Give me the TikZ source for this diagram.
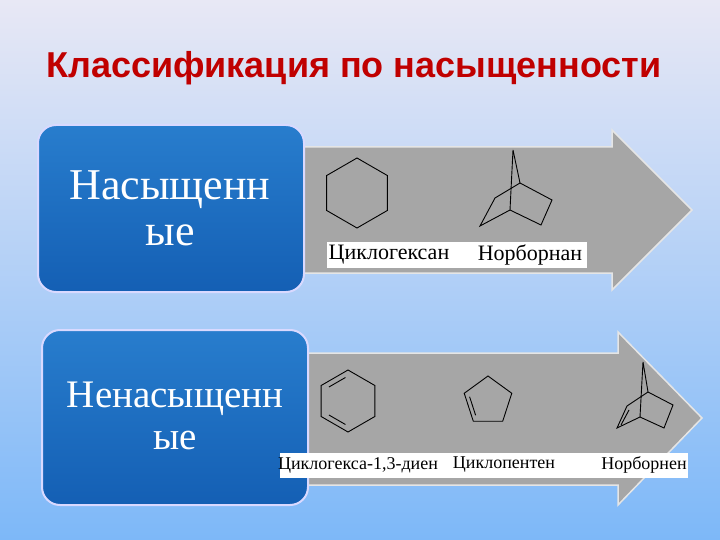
\documentclass[tikz,border=0pt]{standalone}
\usepackage{fontspec}
\setmainfont{Liberation Serif}
\newfontfamily\titlefont{Liberation Sans}
\begin{document}
\begin{tikzpicture}[x=1pt,y=-1pt,
  arr/.style={fill=gray!70!white, draw=white!80!gray, line width=1.5pt},
  bbox/.style={rounded corners=18pt, draw=white!85!blue, line width=2pt, top color={rgb,255:red,40;green,125;blue,205}, bottom color={rgb,255:red,20;green,95;blue,180}},
  bond/.style={line width=0.9pt, black},
  lab/.style={fill=white, inner sep=2pt}]
\useasboundingbox (0,0) rectangle (720,540);
\shade[top color={rgb,255:red,232;green,232;blue,245}, bottom color={rgb,255:red,125;green,184;blue,248}] (0,0) rectangle (720,540);
\node (title) at (354,68) {\titlefont\bfseries\fontsize{36}{40}\selectfont\color[HTML]{C00000} Классификация по насыщенности};
% arrows
\draw[arr] (290,147) -- (612,147) -- (612,130) -- (692,210) -- (612,290) -- (612,273) -- (290,273) -- cycle;
\draw[arr] (295,353) -- (618,353) -- (618,332) -- (702,418) -- (618,505) -- (618,485) -- (295,485) -- cycle;
% boxes
\draw[bbox] (38,125) rectangle (304,292);
\node[text=white, align=center, font=\fontsize{44}{46}\selectfont] (b1) at (170,208) {Насыщенн\\ые};
\draw[bbox] (42,330) rectangle (308,505);
\node[text=white, align=center, font=\fontsize{39}{42}\selectfont] (b2) at (175,416) {Ненасыщенн\\ые};
% cyclohexane
\draw[bond] (357,193) +(90:35) -- +(150:35) -- +(210:35) -- +(270:35) -- +(330:35) -- +(30:35) -- cycle;
% norbornane
\draw[bond] (513,150) -- (520,183) -- (552,200) -- (541,225) -- (510,210) -- (513,150);
\draw[bond] (510,210) -- (480,226) -- (495,198) -- (520,183);
\node[lab, minimum width=260pt, minimum height=26pt] (l1) at (457,255) {};
\node[font=\fontsize{22}{24}\selectfont] (n1) at (389,255) {Циклогексан};
\node[font=\fontsize{22}{24}\selectfont] (n2) at (530,255) {Норборнан};
% cyclohexadiene
\coordinate (c) at (348,401);
\draw[bond] (c) +(90:31) -- +(150:31) -- +(210:31) -- +(270:31) -- +(330:31) -- +(30:31) -- cycle;
\path (c) ++(90:25) coordinate (d1) (c) ++(150:25) coordinate (d2) (c) ++(210:25) coordinate (d3) (c) ++(270:25) coordinate (d4);
\draw[bond, shorten <=3pt, shorten >=3pt] (d1) -- (d2);
\draw[bond, shorten <=3pt, shorten >=3pt] (d3) -- (d4);
% cyclopentene
\coordinate (p) at (488,401);
\draw[bond] (p) +(270:25) -- +(198:25) -- +(126:25) -- +(54:25) -- +(342:25) -- cycle;
\path (p) ++(198:20) coordinate (e1) (p) ++(126:20) coordinate (e2);
\draw[bond, shorten <=2pt, shorten >=2pt] (e1) -- (e2);
% norbornene
\draw[bond] (643,362) -- (648,392) -- (673,405) -- (664,428) -- (640,417) -- (643,362);
\draw[bond] (640,417) -- (617,428) -- (627,406) -- (648,392);
\draw[bond] (621,425) -- (629,410);
\node[lab, minimum width=408pt, minimum height=25pt] (l2) at (484,465) {};
\node[font=\fontsize{18}{20}\selectfont] (m1) at (358,465) {Циклогекса-1,3-диен};
\node[font=\fontsize{18}{20}\selectfont] (m2) at (504,465) {Циклопентен};
\node[font=\fontsize{18}{20}\selectfont] (m3) at (644,465) {Норборнен};
\end{tikzpicture}
\end{document}
